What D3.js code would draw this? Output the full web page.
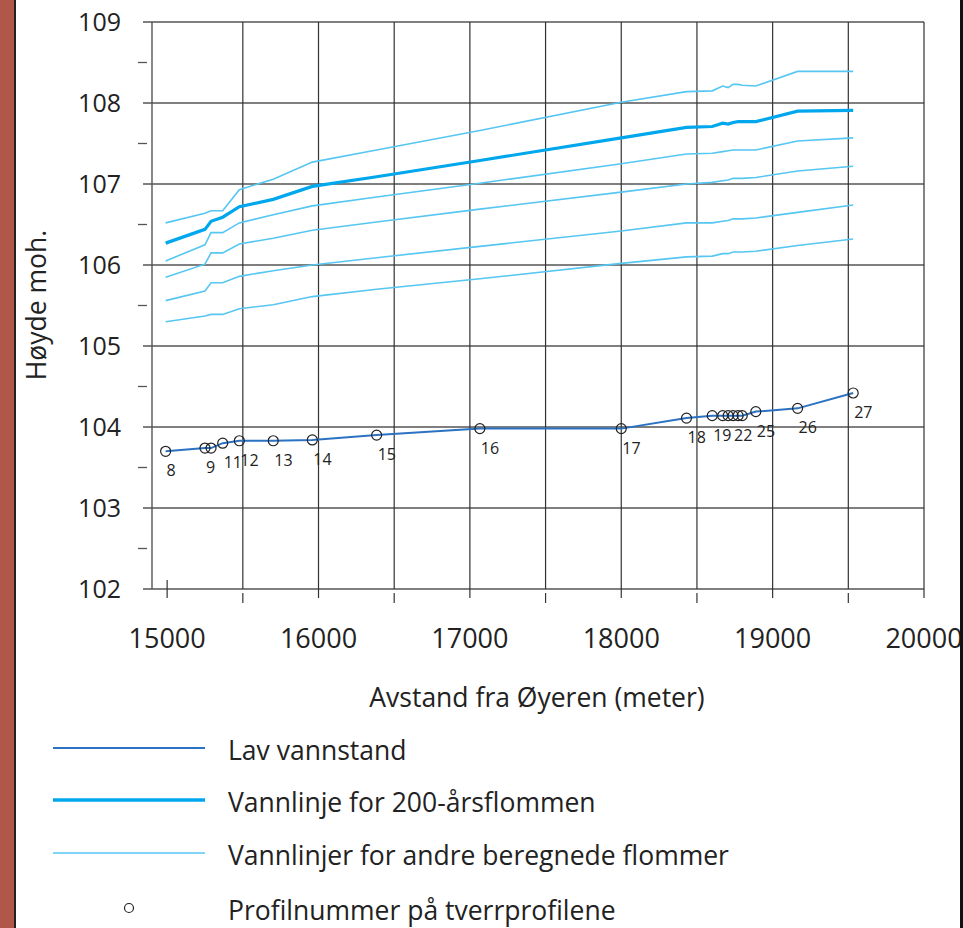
<!DOCTYPE html>
<html>
<head>
<meta charset="utf-8">
<script src="https://cdn.jsdelivr.net/npm/d3@7"></script>
<style>
  html, body { margin: 0; padding: 0; background: #fff; }
  svg { display: block; }
  text { font-family: "Open Sans", "Noto Sans", sans-serif; fill: #222; }
</style>
</head>
<body>
<svg id="chart" width="963" height="928"></svg>
<script>
// Profiler (tverrprofiler) og avstand fra Øyeren i meter
const profileIds = ["8", "9", "10", "11", "12", "13", "14", "15", "16", "17",
                    "18", "19", "20", "21", "22", "23", "24", "25", "26", "27"];
const profileLabels = ["8", "9", "", "11", "12", "13", "14", "15", "16", "17",
                       "18", "19", "", "", "22", "", "", "25", "26", "27"];
const distances = [14990, 15250, 15290, 15367, 15477, 15701, 15959, 16384, 17066, 18000,
                   18431, 18601, 18670, 18706, 18739, 18772, 18799, 18889, 19165, 19532];

// Lav vannstand
const lowWater = [103.70, 103.74, 103.74, 103.80, 103.83, 103.83, 103.84, 103.90, 103.98, 103.98,
                  104.11, 104.14, 104.14, 104.14, 104.14, 104.14, 104.14, 104.19, 104.23, 104.42];

// Vannlinje for 200-årsflommen
const flood200 = [106.27, 106.44, 106.54, 106.59, 106.72, 106.81, 106.97, 107.09, 107.29, 107.57,
                  107.70, 107.71, 107.75, 107.74, 107.76, 107.77, 107.77, 107.77, 107.90, 107.91];

// Vannlinjer for andre beregnede flommer
const floodA = [106.52, 106.64, 106.67, 106.67, 106.93, 107.06, 107.27, 107.42, 107.66, 108.01,
                108.14, 108.15, 108.21, 108.19, 108.23, 108.23, 108.22, 108.21, 108.39, 108.39];
const floodB = [106.05, 106.25, 106.40, 106.40, 106.52, 106.62, 106.73, 106.84, 107.01, 107.25,
                107.37, 107.38, 107.40, 107.41, 107.42, 107.42, 107.42, 107.42, 107.53, 107.57];
const floodC = [105.85, 106.01, 106.15, 106.15, 106.26, 106.33, 106.43, 106.53, 106.69, 106.90,
                107.00, 107.02, 107.04, 107.05, 107.07, 107.07, 107.07, 107.08, 107.16, 107.22];
const floodD = [105.56, 105.68, 105.78, 105.78, 105.86, 105.93, 106.00, 106.09, 106.23, 106.42,
                106.52, 106.52, 106.54, 106.55, 106.57, 106.57, 106.57, 106.58, 106.65, 106.74];
const floodE = [105.30, 105.37, 105.39, 105.39, 105.46, 105.51, 105.61, 105.70, 105.83, 106.02,
                106.10, 106.11, 106.14, 106.14, 106.16, 106.16, 106.16, 106.17, 106.24, 106.32];
const otherFloods = [floodA, floodB, floodC, floodD, floodE];

// Akser
const xTicks = [15000, 16000, 17000, 18000, 19000, 20000];
const xMinorTicks = [15500, 16500, 17500, 18500, 19500];
const yTicks = [102, 103, 104, 105, 106, 107, 108, 109];
const yMinorTicks = [102.5, 103.5, 104.5, 105.5, 106.5, 107.5, 108.5];

const legendItems = ["Lav vannstand", "Vannlinje for 200-årsflommen",
                     "Vannlinjer for andre beregnede flommer", "Profilnummer på tverrprofilene"];

const colorLow = '#2b72c2';
const colorThick = '#00a7ec';
const colorThin = '#56c6f2';
const gridColor = '#555';

const svg = d3.select('#chart');

const x = d3.scaleLinear().domain([14900, 20000]).range([152, 924]);
const y = d3.scaleLinear().domain([102, 109]).range([589, 22]);

// Rød kant til venstre
svg.append('rect').attr('x', 0).attr('y', 0).attr('width', 14).attr('height', 928)
    .style('fill', '#b05749');
svg.append('line').attr('x1', 15).attr('x2', 15).attr('y1', 0).attr('y2', 928)
    .style('stroke', '#222').style('stroke-width', 2);

const grid = svg.append('g');

// Horisontale rutenettlinjer (heltall)
grid.selectAll('.hgrid')
    .data(yTicks)
    .enter()
    .append('line')
    .attr('class', 'hgrid')
    .attr('x1', 143).attr('x2', x(20000))
    .attr('y1', d => y(d)).attr('y2', d => y(d))
    .style('stroke', gridColor).style('stroke-width', 1.4);

// Små tick på y-aksen
grid.selectAll('.yminor')
    .data(yMinorTicks)
    .enter()
    .append('line')
    .attr('x1', 138).attr('x2', 147)
    .attr('y1', d => y(d)).attr('y2', d => y(d))
    .style('stroke', gridColor).style('stroke-width', 1.3);

// Vertikale rutenettlinjer hver 500 m
const vGrid = xMinorTicks.concat(xTicks.slice(1)).sort(d3.ascending);
grid.selectAll('.vgrid')
    .data(vGrid)
    .enter()
    .append('line')
    .attr('x1', d => x(d)).attr('x2', d => x(d))
    .attr('y1', y(109))
    .attr('y2', d => xTicks.includes(d) ? y(102) + 9 : y(102))
    .style('stroke', '#333').style('stroke-width', 1.2);

// Korte tick under aksen på halve tusen
grid.selectAll('.xminor')
    .data(xMinorTicks)
    .enter()
    .append('line')
    .attr('x1', d => x(d)).attr('x2', d => x(d))
    .attr('y1', y(102) + 4).attr('y2', y(102) + 14)
    .style('stroke', '#333').style('stroke-width', 1.2);

// Tick ved 15000 krysser aksen
grid.append('line')
    .attr('x1', x(15000)).attr('x2', x(15000))
    .attr('y1', y(102) - 9).attr('y2', y(102) + 9)
    .style('stroke', '#333').style('stroke-width', 1.2);

// Y-akse
grid.append('line')
    .attr('x1', x(14900)).attr('x2', x(14900))
    .attr('y1', y(109)).attr('y2', y(102))
    .style('stroke', gridColor).style('stroke-width', 1.4);

// Tekst på aksene
svg.selectAll('.ylabel')
    .data(yTicks)
    .enter()
    .append('text')
    .attr('x', 121)
    .attr('y', d => y(d) + 9)
    .style('text-anchor', 'end')
    .style('font-size', '25px')
    .text(d => d);

svg.selectAll('.xlabel')
    .data(xTicks)
    .enter()
    .append('text')
    .attr('x', d => x(d))
    .attr('y', 648)
    .style('text-anchor', 'middle')
    .style('font-size', '27px')
    .text(d => d);

svg.append('text')
    .attr('x', 537).attr('y', 707)
    .style('text-anchor', 'middle')
    .style('font-size', '26.5px')
    .text('Avstand fra Øyeren (meter)');

svg.append('text')
    .attr('transform', 'translate(46, 305) rotate(-90)')
    .style('text-anchor', 'middle')
    .style('font-size', '26.5px')
    .text('Høyde moh.');

// Linjer
const line = d3.line()
    .x((d, i) => x(distances[i]))
    .y(d => y(d));

svg.selectAll('.flood')
    .data(otherFloods)
    .enter()
    .append('path')
    .attr('d', line)
    .style('fill', 'none')
    .style('stroke', colorThin)
    .style('stroke-width', 1.6);

svg.append('path')
    .attr('d', line(flood200))
    .style('fill', 'none')
    .style('stroke', colorThick)
    .style('stroke-width', 3.2);

svg.append('path')
    .attr('d', line(lowWater))
    .style('fill', 'none')
    .style('stroke', colorLow)
    .style('stroke-width', 2);

// Profilpunkter med nummer
svg.selectAll('.profile')
    .data(profileIds)
    .enter()
    .append('circle')
    .attr('cx', (d, i) => x(distances[i]))
    .attr('cy', (d, i) => y(lowWater[i]))
    .attr('r', 5)
    .style('fill', 'none')
    .style('stroke', '#222')
    .style('stroke-width', 1.2);

svg.selectAll('.plabel')
    .data(profileLabels)
    .enter()
    .append('text')
    .attr('x', (d, i) => x(distances[i]) + 1)
    .attr('y', (d, i) => y(lowWater[i]) + 25)
    .style('font-size', '16px')
    .text(d => d);

// Tegnforklaring
const legendY = [748, 800, 853, 908];
const legendStyles = [
    { color: colorLow, width: 2 },
    { color: colorThick, width: 3.5 },
    { color: colorThin, width: 1.6 }
];

legendStyles.forEach((s, i) => {
    svg.append('line')
        .attr('x1', 53).attr('x2', 205)
        .attr('y1', legendY[i]).attr('y2', legendY[i])
        .style('stroke', s.color)
        .style('stroke-width', s.width);
});

svg.append('circle')
    .attr('cx', 129).attr('cy', legendY[3])
    .attr('r', 4.5)
    .style('fill', 'none')
    .style('stroke', '#222')
    .style('stroke-width', 1.2);

svg.selectAll('.legendtext')
    .data(legendItems)
    .enter()
    .append('text')
    .attr('x', 228)
    .attr('y', (d, i) => legendY[i] + 12)
    .style('font-size', '26.5px')
    .text(d => d);

// Svart kant til høyre (klipper 20000)
svg.append('rect').attr('x', 960).attr('y', 0).attr('width', 3).attr('height', 928)
    .style('fill', '#111');
</script>
</body>
</html>
